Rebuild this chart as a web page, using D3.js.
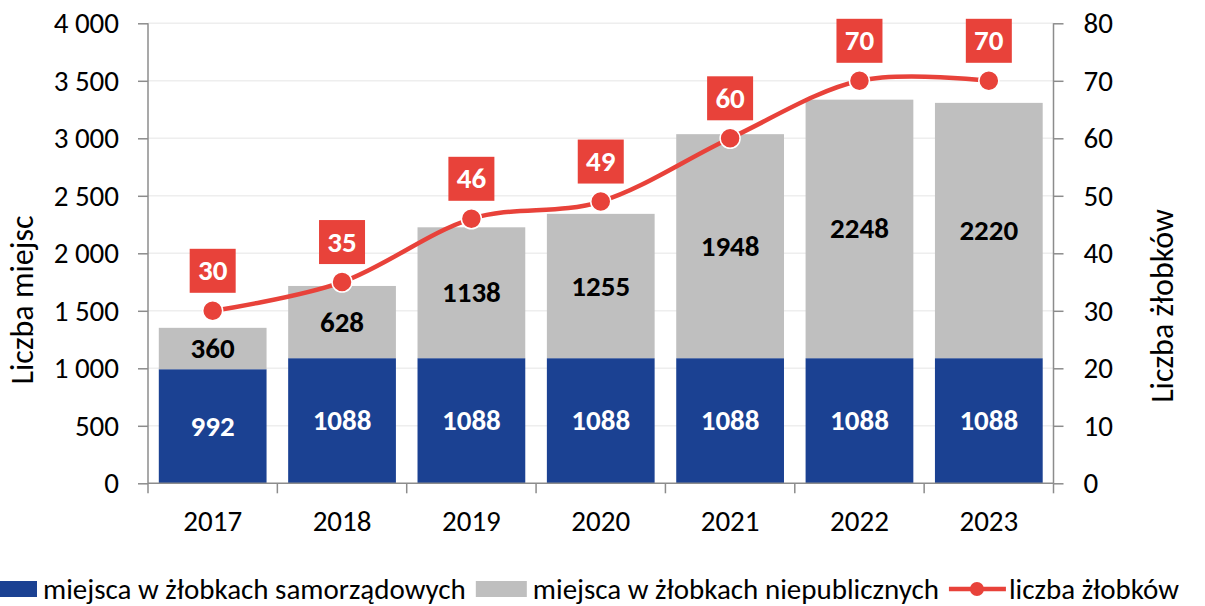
<!DOCTYPE html>
<html>
<head>
<meta charset="utf-8">
<script src="https://cdn.jsdelivr.net/npm/d3@7"></script>
<style>
  body { margin: 0; background: #fff; }
  svg { display: block; font-family: Carlito, Calibri, "Open Sans", sans-serif; }
</style>
</head>
<body>
<svg id="chart" width="1205" height="606"></svg>
<script>
// data
var years = ['2017', '2018', '2019', '2020', '2021', '2022', '2023'];
var samorzadowe = [992, 1088, 1088, 1088, 1088, 1088, 1088];
var niepubliczne = [360, 628, 1138, 1255, 1948, 2248, 2220];
var zlobki = [30, 35, 46, 49, 60, 70, 70];
var leftTicks = [0, 500, 1000, 1500, 2000, 2500, 3000, 3500, 4000];
var rightTicks = [0, 10, 20, 30, 40, 50, 60, 70, 80];
var legendLabels = ['miejsca w żłobkach samorządowych', 'miejsca w żłobkach niepublicznych', 'liczba żłobków'];

var blue = '#1b4192', grey = '#bfbfbf', red = '#e8423a', axisGrey = '#8c8c8c';
var fontStack = 'Carlito, Calibri, "Open Sans", sans-serif';

var svg = d3.select('#chart');
var plotLeft = 148, plotRight = 1053.5, plotTop = 23.3, plotBottom = 483.3;

var x = d3.scaleBand().domain(years).range([plotLeft, plotRight]).paddingInner(0.167).paddingOuter(0.0835);
var band = d3.scaleBand().domain(years).range([plotLeft, plotRight]);
var yL = d3.scaleLinear().domain([0, 4000]).range([plotBottom, plotTop]);
var yR = d3.scaleLinear().domain([0, 80]).range([plotBottom, plotTop]);

var fmt = d3.formatLocale({decimal: ',', thousands: ' ', grouping: [3], currency: ['', '']}).format(',d');

// gridlines
svg.append('g').selectAll('line')
  .data(leftTicks.slice(1))
  .enter().append('line')
  .attr('x1', plotLeft).attr('x2', plotRight)
  .attr('y1', function(d) { return yL(d); })
  .attr('y2', function(d) { return yL(d); })
  .style('stroke', '#eeeeee').style('stroke-width', 1.5);

// stacked bars
var rows = years.map(function(y, i) { return {year: y, s: samorzadowe[i], n: niepubliczne[i]}; });

svg.append('g').selectAll('rect')
  .data(rows).enter().append('rect')
  .attr('x', function(d) { return x(d.year); })
  .attr('width', x.bandwidth())
  .attr('y', function(d) { return yL(d.s); })
  .attr('height', function(d) { return yL(0) - yL(d.s); })
  .style('fill', blue);

svg.append('g').selectAll('rect')
  .data(rows).enter().append('rect')
  .attr('x', function(d) { return x(d.year); })
  .attr('width', x.bandwidth())
  .attr('y', function(d) { return yL(d.s + d.n); })
  .attr('height', function(d) { return yL(d.s) - yL(d.s + d.n); })
  .style('fill', grey);

// bar labels
var barLabels = svg.append('g')
  .style('font-size', '29px').style('font-weight', 'bold')
  .attr('text-anchor', 'middle');

barLabels.selectAll('text.s')
  .data(rows).enter().append('text')
  .attr('x', function(d) { return x(d.year) + x.bandwidth() / 2; })
  .attr('y', function(d) { return (yL(0) + yL(d.s)) / 2; })
  .attr('dy', '0.33em')
  .style('fill', '#fff')
  .text(function(d) { return d.s; });

barLabels.selectAll('text.n')
  .data(rows).enter().append('text')
  .attr('x', function(d) { return x(d.year) + x.bandwidth() / 2; })
  .attr('y', function(d) { return (yL(d.s) + yL(d.s + d.n)) / 2; })
  .attr('dy', '0.33em')
  .style('fill', '#000')
  .text(function(d) { return d.n; });

// axes
var axisL = svg.append('g').attr('transform', 'translate(' + plotLeft + ',0)')
  .call(d3.axisLeft(yL).tickValues(leftTicks).tickFormat(fmt).tickSize(10).tickPadding(19));
var axisR = svg.append('g').attr('transform', 'translate(' + plotRight + ',0)')
  .call(d3.axisRight(yR).tickValues(rightTicks).tickSize(10).tickPadding(20));
var axisB = svg.append('g').attr('transform', 'translate(0,' + plotBottom + ')')
  .call(d3.axisBottom(band).tickSize(0).tickPadding(27));

// category boundary ticks on the x axis
axisB.selectAll('line.sep')
  .data(years.concat(['end']))
  .enter().append('line')
  .attr('x1', function(d, i) { return plotLeft + i * band.step(); })
  .attr('x2', function(d, i) { return plotLeft + i * band.step(); })
  .attr('y1', 0).attr('y2', 10)
  .style('stroke', axisGrey).style('stroke-width', 1.5);

[axisL, axisR, axisB].forEach(function(a) {
  a.select('.domain').remove();
  a.selectAll('.tick line').style('stroke', axisGrey).style('stroke-width', 1.5);
  a.selectAll('text').style('font-size', '29px').style('fill', '#000')
    .style('font-family', fontStack);
});

svg.append('line').attr('x1', plotLeft).attr('x2', plotLeft).attr('y1', plotTop).attr('y2', plotBottom)
  .style('stroke', axisGrey).style('stroke-width', 1.5);
svg.append('line').attr('x1', plotRight).attr('x2', plotRight).attr('y1', plotTop).attr('y2', plotBottom)
  .style('stroke', axisGrey).style('stroke-width', 1.5);
svg.append('line').attr('x1', plotLeft).attr('x2', plotRight).attr('y1', plotBottom).attr('y2', plotBottom)
  .style('stroke', axisGrey).style('stroke-width', 1.5);

// axis titles
svg.append('text')
  .attr('transform', 'translate(33,300) rotate(-90)')
  .attr('text-anchor', 'middle')
  .style('font-size', '32px')
  .text('Liczba miejsc');
svg.append('text')
  .attr('transform', 'translate(1173,306) rotate(-90)')
  .attr('text-anchor', 'middle')
  .style('font-size', '32px')
  .text('Liczba żłobków');

// line series
var pts = years.map(function(y, i) { return {year: y, v: zlobki[i]}; });
var line = d3.line()
  .x(function(d) { return band(d.year) + band.bandwidth() / 2; })
  .y(function(d) { return yR(d.v); })
  .curve(d3.curveCatmullRom.alpha(0));

svg.append('path')
  .datum(pts)
  .attr('d', line)
  .style('fill', 'none')
  .style('stroke', red)
  .style('stroke-width', 4.5);

svg.append('g').selectAll('circle')
  .data(pts).enter().append('circle')
  .attr('cx', function(d) { return band(d.year) + band.bandwidth() / 2; })
  .attr('cy', function(d) { return yR(d.v); })
  .attr('r', 10)
  .style('fill', red)
  .style('stroke', '#fff')
  .style('stroke-width', 1.5);

// red value boxes above points
var boxes = svg.append('g').selectAll('g')
  .data(pts).enter().append('g')
  .attr('transform', function(d) {
    return 'translate(' + (band(d.year) + band.bandwidth() / 2) + ',' + (yR(d.v) - 40) + ')';
  });
boxes.append('rect')
  .attr('x', -23).attr('y', -22).attr('width', 46).attr('height', 44)
  .style('fill', red);
boxes.append('text')
  .attr('text-anchor', 'middle')
  .attr('dy', '0.33em')
  .style('fill', '#fff')
  .style('font-size', '29px')
  .style('font-weight', 'bold')
  .text(function(d) { return d.v; });

// legend
var legend = svg.append('g').attr('transform', 'translate(0,589)');
var lx = -14;
legendLabels.forEach(function(label, i) {
  if (i < 2) {
    legend.append('rect')
      .attr('x', lx).attr('y', -8).attr('width', 51).attr('height', 16)
      .style('fill', i == 0 ? blue : grey);
  } else {
    legend.append('line')
      .attr('x1', lx).attr('x2', lx + 57).attr('y1', 0).attr('y2', 0)
      .style('stroke', red).style('stroke-width', 4.5);
    legend.append('circle')
      .attr('cx', lx + 28).attr('cy', 0).attr('r', 7)
      .style('fill', red);
  }
  var t = legend.append('text')
    .attr('x', lx + (i < 2 ? 57 : 60))
    .attr('dy', '0.33em')
    .style('font-size', '29px')
    .text(label);
  lx += (i < 2 ? 57 : 60) + t.node().getComputedTextLength() + 10;
});
</script>
</body>
</html>
